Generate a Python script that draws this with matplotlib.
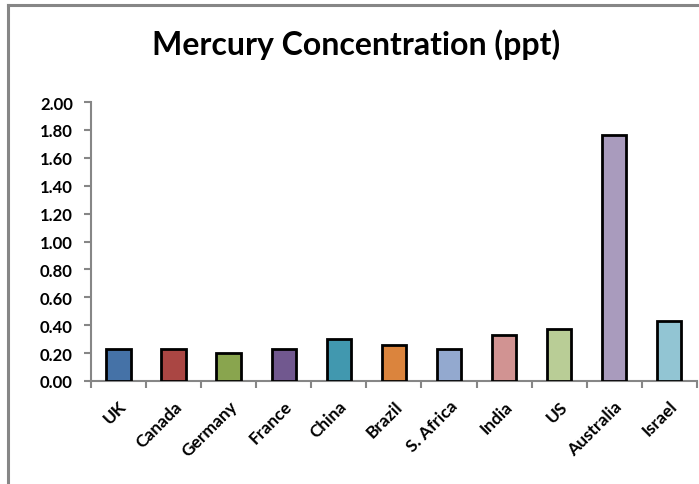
import matplotlib.pyplot as plt
from matplotlib.lines import Line2D
import numpy as np

countries = ['UK', 'Canada', 'Germany', 'France', 'China', 'Brazil',
             'S. Africa', 'India', 'US', 'Australia', 'Israel']
mercury = [0.23, 0.23, 0.20, 0.23, 0.30, 0.26, 0.23, 0.33, 0.37, 1.76, 0.43]
bar_colors = ['#4572A7', '#AA4643', '#89A54E', '#71588F', '#4198AF', '#DB843D',
              '#93A9CF', '#D19392', '#B9CD96', '#A99BBD', '#92C5D3']
y_ticks = [0.0, 0.2, 0.4, 0.6, 0.8, 1.0, 1.2, 1.4, 1.6, 1.8, 2.0]

plt.rcParams['font.family'] = ['Lato', 'DejaVu Sans']

fig = plt.figure(figsize=(6.99, 4.85), dpi=100)
ax = fig.add_axes([0.130, 0.2124, 0.867, 0.5752])

x = np.arange(len(countries))
ax.bar(x, mercury, width=0.44, color=bar_colors, edgecolor='black', linewidth=2, zorder=3)

ax.set_xlim(-0.5, len(countries) - 0.5)
ax.set_ylim(0, 2.0)
ax.set_yticks(y_ticks)
ax.set_yticklabels([f'{v:.2f}' for v in y_ticks], fontsize=12, fontweight='bold')

# category boundaries get the tick marks, centers get the labels
ax.set_xticks(np.arange(len(countries) + 1) - 0.5)
ax.set_xticklabels([])
ax.set_xticks(x, minor=True)
ax.set_xticklabels(countries, minor=True, rotation=45, ha='right',
                   rotation_mode='anchor', fontsize=12.5, fontweight='bold')
ax.tick_params(axis='x', which='minor', length=0, pad=12)
ax.tick_params(axis='x', which='major', length=5, width=1.5, color='#868686', direction='out')
ax.tick_params(axis='y', length=5, width=1.5, color='#868686', direction='out', pad=8)

for side in ['top', 'right']:
    ax.spines[side].set_visible(False)
for side in ['left', 'bottom']:
    ax.spines[side].set_color('#868686')
    ax.spines[side].set_linewidth(1.5)

fig.text(0.51, 0.907, 'Mercury Concentration (ppt)', ha='center', va='center',
         fontsize=23, fontweight='bold')

# chart border (left and top edges visible)
fig.add_artist(Line2D([8 / 699, 8 / 699], [0, 1 - 6 / 485], color='#868686', linewidth=2.2,
                      transform=fig.transFigure))
fig.add_artist(Line2D([8 / 699, 1], [1 - 6 / 485, 1 - 6 / 485], color='#868686', linewidth=2.2,
                      transform=fig.transFigure))

fig.savefig('out.png', dpi=100)
